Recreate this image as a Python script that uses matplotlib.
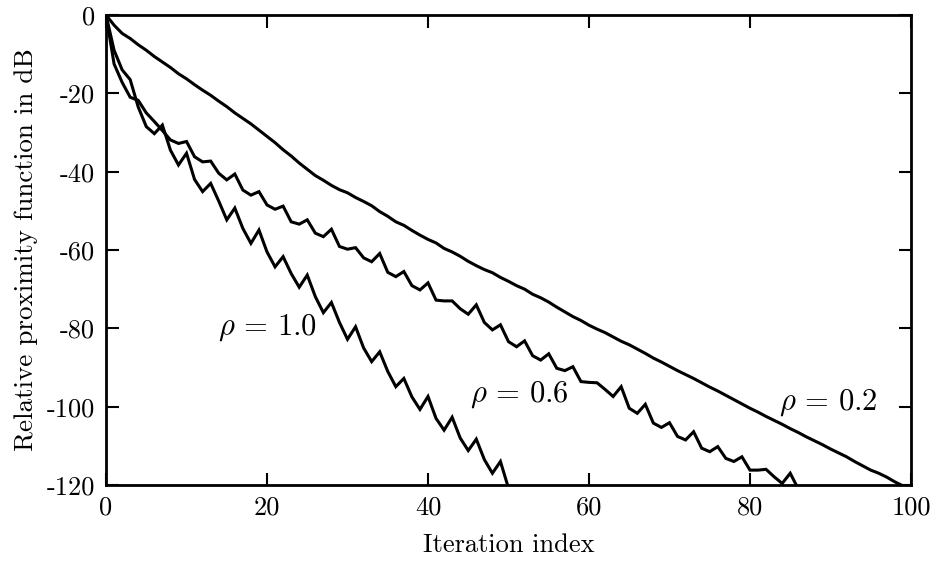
import numpy as np
import matplotlib
matplotlib.use('Agg')
import matplotlib.pyplot as plt

plt.rcParams['font.family'] = 'serif'
plt.rcParams['font.serif'] = ['cmr10', 'DejaVu Serif']
plt.rcParams['mathtext.fontset'] = 'cm'
plt.rcParams['axes.unicode_minus'] = False
plt.rcParams['axes.formatter.use_mathtext'] = True

# relative proximity function (dB) per iteration
rho02 = [0, -2.6, -4.7, -6.0, -7.6, -9.0, -10.6, -12.0, -13.4, -15.0,
         -16.3, -17.8, -19.2, -20.5, -22.0, -23.4, -25.0, -26.4, -27.8, -29.4,
         -31.0, -32.6, -34.4, -36.0, -37.8, -39.4, -41.0, -42.2, -43.5, -44.6,
         -45.4, -46.6, -47.6, -48.7, -50.2, -51.4, -52.8, -53.7, -55.0, -56.2,
         -57.3, -58.2, -59.6, -60.5, -61.6, -62.9, -64.0, -65.0, -65.8, -67.0,
         -68.0, -69.1, -70.0, -71.3, -72.2, -73.3, -74.6, -75.8, -77.0, -78.0,
         -79.2, -80.2, -81.1, -82.2, -83.3, -84.2, -85.3, -86.4, -87.6, -88.6,
         -89.7, -90.8, -91.8, -92.8, -93.9, -95.0, -96.0, -97.1, -98.2, -99.3,
         -100.4, -101.4, -102.5, -103.5, -104.5, -105.6, -106.6, -107.7, -108.7, -109.7,
         -110.8, -111.8, -112.8, -114.0, -115.1, -116.2, -117.0, -118.0, -119.2, -120.2]

rho06 = [0, -12.5, -17.2, -21.0, -21.8, -25.0, -27.2, -29.5, -31.9, -32.8,
         -32.3, -36.2, -37.5, -37.3, -40.4, -42.1, -40.6, -44.7, -46.0, -45.1,
         -48.5, -49.6, -48.8, -52.8, -53.4, -52.3, -55.7, -56.6, -54.7, -59.1,
         -59.8, -59.4, -62.0, -63.0, -60.9, -65.7, -66.8, -65.5, -69.1, -70.2,
         -68.4, -72.8, -73.0, -73.0, -75.0, -76.4, -74.0, -78.5, -80.4, -79.1,
         -83.4, -84.7, -83.2, -87.0, -88.1, -86.5, -90.2, -90.8, -89.8, -93.6,
         -93.8, -93.9, -95.6, -97.4, -94.9, -100.4, -101.7, -99.4, -104.2, -105.3,
         -104.1, -107.6, -108.5, -106.4, -110.6, -111.5, -110.2, -113.2, -114.0, -112.8,
         -116.2, -116.2, -116.0, -117.9, -119.6, -117.0, -121.0]

rho10 = [0, -9.0, -14.0, -16.5, -23.5, -28.5, -30.3, -28.1, -34.5, -38.3,
         -35.3, -42.0, -45.1, -43.0, -47.5, -52.3, -49.3, -54.5, -58.3, -54.9,
         -60.5, -64.3, -61.7, -66.0, -69.5, -66.4, -71.9, -76.0, -73.4, -78.5,
         -82.8, -79.6, -85.0, -88.5, -86.0, -91.0, -94.9, -92.8, -97.5, -100.7,
         -97.4, -103.0, -106.0, -102.7, -108.0, -111.2, -108.3, -113.5, -117.0, -114.0,
         -120.8]

curve_labels = [r'$\rho\,=\,1.0$', r'$\rho\,=\,0.6$', r'$\rho\,=\,0.2$']
label_pos = [(20.1, -79.7), (51.4, -97.0), (89.7, -99.0)]

xticks = [0, 20, 40, 60, 80, 100]
yticks = [0, -20, -40, -60, -80, -100, -120]

fig = plt.figure(figsize=(9.4, 5.72), dpi=100)
ax = fig.add_axes([0.1128, 0.1521, 0.8563, 0.8217])

for d in [rho02, rho06, rho10]:
    ax.plot(np.arange(len(d)), d, '-', color='k', lw=2.2, solid_joinstyle='miter')

for t, (x, y) in zip(curve_labels, label_pos):
    ax.text(x, y, t, fontsize=22, ha='center', va='center')

ax.set_xlim(0, 100)
ax.set_ylim(-120, 0)
ax.set_xticks(xticks)
ax.set_yticks(yticks)
ax.set_xticklabels([str(v) for v in xticks], fontsize=19)
ax.set_yticklabels([str(v) for v in yticks], fontsize=19)
ax.tick_params(direction='in', length=9, width=1.5, top=True, right=True, pad=8)
for s in ax.spines.values():
    s.set_linewidth(2.0)

ax.set_xlabel('Iteration index', fontsize=19, labelpad=10)
ax.set_ylabel('Relative proximity function in dB', fontsize=19.5, labelpad=6)

plt.savefig('out.png', dpi=100)
